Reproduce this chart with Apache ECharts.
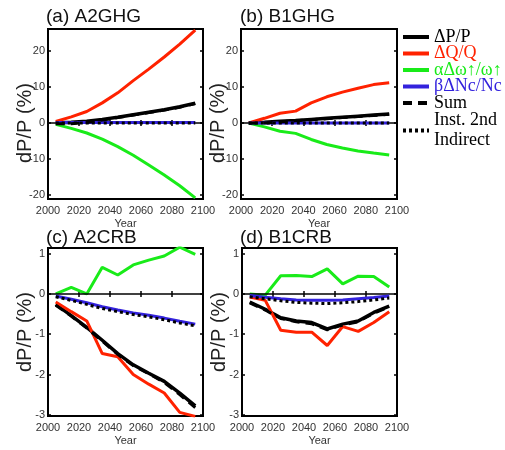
<!DOCTYPE html>
<html>
<head>
<meta charset="utf-8">
<script src="https://cdn.jsdelivr.net/npm/echarts@6/dist/echarts.min.js"></script>
<style>
  html, body { margin: 0; padding: 0; background: #fff; }
  #chart { width: 505px; height: 450px; }
</style>
</head>
<body>
<div id="chart"></div>
<script>
// decadal means, 2005 ... 2095
const years = [2005, 2015, 2025, 2035, 2045, 2055, 2065, 2075, 2085, 2095]

const panelTitles = ['(a) A2GHG', '(b) B1GHG', '(c) A2CRB', '(d) B1CRB']
const seriesNames = ['ΔP/P', 'ΔQ/Q', 'αΔω↑/ω↑', 'βΔNc/Nc', 'Sum', 'Inst. 2nd\nIndirect']
const xTicks = [2000, 2020, 2040, 2060, 2080, 2100]
const ghgTicks = [-20, -10, 0, 10, 20]
const crbTicks = [-3, -2, -1, 0, 1]

// (a) A2GHG
const a2ghgDP = [0.0, 0.2, 0.5, 1.0, 1.6, 2.3, 3.0, 3.7, 4.5, 5.5]
const a2ghgDQ = [0.4, 1.7, 3.2, 5.6, 8.4, 11.8, 15.0, 18.4, 22.0, 25.9]
const a2ghgAlpha = [-0.4, -1.5, -2.8, -4.5, -6.6, -9.0, -11.7, -14.5, -17.5, -20.9]
const a2ghgBeta = [0.1, 0.1, 0.1, 0.1, 0.1, 0.1, 0.1, 0.1, 0.1, 0.1]
const a2ghgSum = [-0.2, -0.2, 0.1, 0.8, 1.5, 2.2, 2.9, 3.6, 4.4, 5.4]
const a2ghgInst = [0.0, 0.0, 0.0, 0.0, 0.0, 0.0, 0.0, 0.0, 0.0, 0.0]

// (b) B1GHG
const b1ghgDP = [0.0, 0.2, 0.5, 0.7, 1.0, 1.3, 1.6, 1.9, 2.2, 2.5]
const b1ghgDQ = [0.0, 1.3, 2.7, 3.3, 5.6, 7.3, 8.6, 9.7, 10.7, 11.2]
const b1ghgAlpha = [0.0, -1.1, -2.3, -2.9, -4.6, -6.0, -7.0, -7.8, -8.4, -8.9]
const b1ghgBeta = [0.0, 0.0, 0.0, 0.0, 0.0, 0.0, 0.0, 0.0, 0.0, 0.0]
const b1ghgSum = [-0.1, 0.0, 0.3, 0.6, 0.9, 1.2, 1.5, 1.8, 2.1, 2.4]
const b1ghgInst = [0.0, 0.0, 0.0, 0.0, 0.0, 0.0, 0.0, 0.0, 0.0, 0.0]

// (c) A2CRB
const a2crbDP = [-0.26, -0.54, -0.83, -1.15, -1.48, -1.76, -1.97, -2.17, -2.46, -2.78]
const a2crbDQ = [-0.20, -0.44, -0.67, -1.48, -1.56, -2.0, -2.24, -2.46, -2.94, -3.04]
const a2crbAlpha = [0.0, 0.16, 0.0, 0.66, 0.47, 0.72, 0.84, 0.94, 1.16, 0.98]
const a2crbBeta = [-0.05, -0.13, -0.22, -0.32, -0.40, -0.47, -0.53, -0.60, -0.68, -0.75]
const a2crbSum = [-0.28, -0.55, -0.85, -1.17, -1.50, -1.78, -1.98, -2.20, -2.50, -2.82]
const a2crbInst = [-0.07, -0.16, -0.26, -0.36, -0.44, -0.51, -0.57, -0.64, -0.72, -0.79]

// (d) B1CRB
const b1crbDP = [-0.20, -0.38, -0.59, -0.67, -0.71, -0.87, -0.75, -0.67, -0.46, -0.30]
const b1crbDQ = [-0.08, -0.16, -0.90, -0.95, -0.95, -1.28, -0.81, -0.93, -0.71, -0.44]
const b1crbAlpha = [0.0, -0.03, 0.45, 0.46, 0.43, 0.62, 0.25, 0.44, 0.43, 0.17]
const b1crbBeta = [-0.04, -0.08, -0.12, -0.15, -0.16, -0.16, -0.15, -0.12, -0.09, -0.05]
const b1crbSum = [-0.22, -0.40, -0.61, -0.69, -0.74, -0.89, -0.77, -0.69, -0.48, -0.32]
const b1crbInst = [-0.07, -0.12, -0.17, -0.21, -0.23, -0.24, -0.22, -0.19, -0.15, -0.10]

const panelData = [
    [a2ghgDP, a2ghgDQ, a2ghgAlpha, a2ghgBeta, a2ghgSum, a2ghgInst],
    [b1ghgDP, b1ghgDQ, b1ghgAlpha, b1ghgBeta, b1ghgSum, b1ghgInst],
    [a2crbDP, a2crbDQ, a2crbAlpha, a2crbBeta, a2crbSum, a2crbInst],
    [b1crbDP, b1crbDQ, b1crbAlpha, b1crbBeta, b1crbSum, b1crbInst],
]

const colors = ['#000000', '#ff2200', '#19eb19', '#3322dd', '#000000', '#000000']
const widths = [3.5, 3, 3, 3, 3, 3]
const lineTypes = ['solid', 'solid', 'solid', 'solid', [9, 6], [3, 3]]

const grids = [
    { left: 48, top: 29, width: 155, height: 170 },
    { left: 241, top: 29, width: 156, height: 170 },
    { left: 48, top: 248, width: 155, height: 168 },
    { left: 242, top: 248, width: 155, height: 168 },
]
const yRanges = [[-21.2, 26.2], [-21.2, 26.2], [-3.03, 1.14], [-3.03, 1.14]]
const titlePos = [[46, 7], [240, 7], [46, 228], [240, 228]]
// the upper panels' y titles sit a bit lower than the box middle
const yNamePad = [[0, 18, 0, 0], [0, 18, 0, 0], 0, 0]

const sans = 'Liberation Sans'
const tickColor = '#333'

const xAxes = []
const yAxes = []
grids.forEach((g, i) => {
    // bottom axis with labels, top axis with ticks only (matlab box)
    xAxes.push({
        gridIndex: i, type: 'value', min: 2000, max: 2100, interval: 20, position: 'bottom',
        axisLine: { show: false },
        axisTick: { inside: true, length: 3, lineStyle: { color: '#000', width: 1.5 } },
        axisLabel: { fontSize: 11, color: tickColor, margin: 6, fontFamily: sans, formatter: v => String(v) },
        splitLine: { show: false },
        name: 'Year', nameLocation: 'middle', nameGap: 19, nameMoveOverlap: false,
        nameTextStyle: { fontSize: 11, color: tickColor, fontFamily: sans },
    })
    xAxes.push({
        gridIndex: i, type: 'value', min: 2000, max: 2100, interval: 20, position: 'top',
        axisLine: { show: false },
        axisTick: { inside: true, length: 3, lineStyle: { color: '#000', width: 1.5 } },
        axisLabel: { show: false },
        splitLine: { show: false },
    })
    const ticks = i < 2 ? ghgTicks : crbTicks
    yAxes.push({
        gridIndex: i, type: 'value', min: yRanges[i][0], max: yRanges[i][1], position: 'left',
        axisLine: { show: false },
        axisTick: { inside: true, length: 3, customValues: ticks, lineStyle: { color: '#000', width: 1.5 } },
        axisLabel: { customValues: ticks, fontSize: 11, color: tickColor, margin: 3, fontFamily: sans },
        splitLine: { show: false },
        name: 'dP/P (%)', nameLocation: 'middle', nameRotate: 90, nameGap: 13, nameMoveOverlap: false,
        nameTextStyle: { fontSize: 20, color: '#222', fontFamily: sans, padding: yNamePad[i] },
    })
    yAxes.push({
        gridIndex: i, type: 'value', min: yRanges[i][0], max: yRanges[i][1], position: 'right',
        axisLine: { show: false },
        axisTick: { inside: true, length: 3, customValues: ticks, lineStyle: { color: '#000', width: 1.5 } },
        axisLabel: { show: false },
        splitLine: { show: false },
    })
})

const series = []
panelData.forEach((arrs, i) => {
    arrs.forEach((arr, k) => {
        const s = {
            type: 'line',
            name: seriesNames[k],
            xAxisIndex: 2 * i,
            yAxisIndex: 2 * i,
            data: years.map((yr, j) => [yr, arr[j]]),
            symbol: 'none',
            lineStyle: { color: colors[k], width: widths[k], type: lineTypes[k] },
            itemStyle: { color: colors[k] },
            z: 2 + k,
        }
        if (k === 0) {
            // zero line
            s.markLine = {
                silent: true, symbol: 'none', label: { show: false },
                lineStyle: { color: '#000', width: 1.5, type: 'solid' },
                data: [{ yAxis: 0 }],
            }
        }
        series.push(s)
    })
})

const chart = echarts.init(document.getElementById('chart'))
chart.setOption({
    animation: false,
    backgroundColor: '#fff',
    title: panelTitles.map((t, i) => ({
        text: t, left: titlePos[i][0], top: titlePos[i][1], padding: 0,
        textStyle: { fontSize: 19, fontWeight: 'normal', color: '#111', fontFamily: sans },
    })),
    grid: grids.map(g => Object.assign({ show: true, borderColor: '#000', borderWidth: 2, backgroundColor: 'transparent' }, g)),
    xAxis: xAxes,
    yAxis: yAxes,
    legend: {
        orient: 'vertical', left: 401, top: 28, padding: 0,
        itemWidth: 26, itemHeight: 15, itemGap: -1.5,
        itemStyle: { opacity: 0 },
        lineStyle: { width: 4 },
        textStyle: { fontFamily: 'Liberation Serif', fontSize: 18, lineHeight: 15.3, color: '#000' },
        data: seriesNames.map((n, k) => ({
            name: n,
            textStyle: { color: k === 0 || k > 3 ? '#000' : colors[k], lineHeight: k === 5 ? 20 : 15.3 },
        })),
    },
    series: series,
})
</script>
</body>
</html>
